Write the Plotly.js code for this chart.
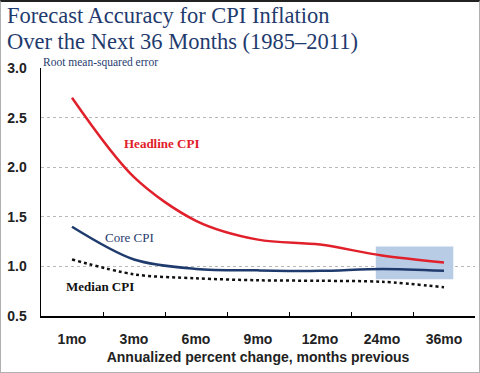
<!DOCTYPE html>
<html>
<head>
<meta charset="utf-8">
<script src="https://cdn.plot.ly/plotly-3.0.1.min.js"></script>
<style>
html,body{margin:0;padding:0;background:#fff;}
#chart{width:480px;height:373px;}
#frame{position:absolute;left:0;top:0;width:480px;height:373px;box-sizing:border-box;border:1px solid #b0b0b0;border-top:2px solid #222;pointer-events:none;}
</style>
</head>
<body>
<div id="chart"></div>
<div id="frame"></div>
<script>
var categories = ["1mo", "3mo", "6mo", "9mo", "12mo", "24mo", "36mo"];
var headlineCPI = [2.70, 1.90, 1.46, 1.27, 1.22, 1.11, 1.04];
var coreCPI = [1.40, 1.07, 0.975, 0.96, 0.955, 0.975, 0.955];
var medianCPI = [1.07, 0.92, 0.88, 0.86, 0.855, 0.845, 0.79];
var yTicks = [0.5, 1.0, 1.5, 2.0, 2.5, 3.0];
var yTickText = ["0.5", "1.0", "1.5", "2.0", "2.5", "3.0"];
var titleLines = ["Forecast Accuracy for CPI Inflation", "Over the Next 36 Months (1985–2011)"];

var navy = "#1f3b6e";
var red = "#e0202a";
var serif = "Liberation Serif, Times New Roman, serif";
var sans = "Liberation Sans, Arial, sans-serif";

var traces = [
  {x: categories, y: headlineCPI, type: "scatter", mode: "lines", name: "Headline CPI",
   line: {color: red, width: 2.5, shape: "spline", smoothing: 0.9}},
  {x: categories, y: coreCPI, type: "scatter", mode: "lines", name: "Core CPI",
   line: {color: navy, width: 2.5, shape: "spline", smoothing: 0.9}},
  {x: categories, y: medianCPI, type: "scatter", mode: "lines", name: "Median CPI",
   line: {color: "#111", width: 2.5, dash: "dot", shape: "spline", smoothing: 0.9}}
];

function py(px) { return (316 - px) / 248; }

var layout = {
  width: 480, height: 373,
  margin: {l: 41, r: 5, t: 68, b: 57},
  paper_bgcolor: "#fff", plot_bgcolor: "#fff",
  showlegend: false,
  xaxis: {
    type: "category",
    range: [-0.5, 6.5],
    showline: true, linecolor: "#000", linewidth: 1.5,
    ticks: "inside", tickson: "boundaries", ticklen: 4, tickcolor: "#000", tickwidth: 1,
    showgrid: false, zeroline: false,
    tickfont: {family: sans, size: 14, color: "#222", weight: "bold"},
    ticklabelstandoff: 10,
    title: {text: "Annualized percent change, months previous",
            font: {family: sans, size: 14, color: "#222", weight: "bold"}, standoff: 6}
  },
  yaxis: {
    range: [0.5, 3.0],
    tickvals: yTicks, ticktext: yTickText,
    showline: true, linecolor: "#000", linewidth: 1.5,
    ticks: "", showgrid: true, gridcolor: "#b8b8b8", griddash: "dot", gridwidth: 1,
    zeroline: false,
    tickfont: {family: sans, size: 14, color: "#222", weight: "bold"},
    ticklabelstandoff: 10
  },
  shapes: [
    {type: "rect", xref: "x", yref: "y", x0: 4.9, x1: 6.15, y0: 0.87, y1: 1.20,
     fillcolor: "#b9cce5", line: {width: 0}, layer: "between"}
  ],
  annotations: [
    {xref: "paper", yref: "paper", x: -36/434, y: py(15), xanchor: "left", yanchor: "middle",
     text: titleLines[0], showarrow: false,
     font: {family: serif, size: 22.5, color: navy}},
    {xref: "paper", yref: "paper", x: -36/434, y: py(41), xanchor: "left", yanchor: "middle",
     text: titleLines[1], showarrow: false,
     font: {family: serif, size: 22.5, color: navy}},
    {xref: "paper", yref: "paper", x: 0, y: py(63), xanchor: "left", yanchor: "middle",
     text: "Root mean-squared error", showarrow: false,
     font: {family: serif, size: 11.5, color: navy}},
    {xref: "x", yref: "y", x: 1.45, y: 2.237, text: "Headline CPI", showarrow: false,
     font: {family: serif, size: 13, color: red, weight: "bold"}},
    {xref: "x", yref: "y", x: 0.935, y: 1.293, text: "Core CPI", showarrow: false,
     font: {family: serif, size: 13, color: navy}},
    {xref: "x", yref: "y", x: 0.45, y: 0.80, text: "Median CPI", showarrow: false,
     font: {family: serif, size: 13, color: "#111", weight: "bold"}}
  ]
};

Plotly.newPlot("chart", traces, layout, {displayModeBar: false, staticPlot: true});
</script>
</body>
</html>
